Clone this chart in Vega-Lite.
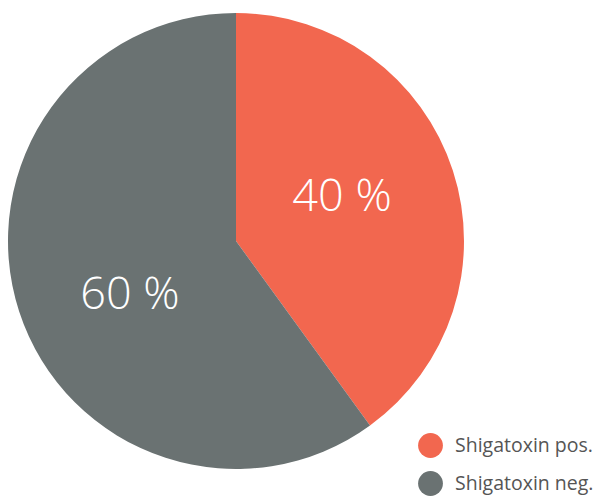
{
  "$schema": "https://vega.github.io/schema/vega-lite/v6.json",
  "width": 456,
  "height": 456,
  "autosize": "none",
  "padding": {"left": 8, "top": 13, "right": 134, "bottom": 31},
  "background": "white",
  "view": {"stroke": null},
  "data": {
    "values": [
      {"category": "Shigatoxin pos.", "value": 40, "label": "40 %", "order": 1},
      {"category": "Shigatoxin neg.", "value": 60, "label": "60 %", "order": 2}
    ]
  },
  "encoding": {
    "theta": {"field": "value", "type": "quantitative", "stack": true},
    "order": {"field": "order", "type": "quantitative"}
  },
  "layer": [
    {
      "mark": {"type": "arc", "outerRadius": 228},
      "encoding": {
        "color": {
          "field": "category",
          "type": "nominal",
          "scale": {"domain": ["Shigatoxin pos.", "Shigatoxin neg."], "range": ["#F2674F", "#6A7272"]},
          "legend": {
            "orient": "none",
            "legendX": 410,
            "legendY": 420,
            "title": null,
            "padding": 0,
            "symbolType": "circle",
            "symbolSize": 615,
            "symbolStrokeWidth": 0,
            "labelFont": "Open Sans",
            "labelFontSize": 19.5,
            "labelColor": "#555555",
            "labelOffset": 12,
            "rowPadding": 13
          }
        }
      }
    },
    {
      "mark": {"type": "text", "radius": 117, "thetaOffset": -0.122, "dy": 5, "fontSize": 45, "font": "Open Sans", "fontWeight": 300, "baseline": "middle", "align": "center"},
      "encoding": {
        "text": {"field": "label", "type": "nominal"},
        "color": {"value": "white"}
      }
    }
  ]
}
